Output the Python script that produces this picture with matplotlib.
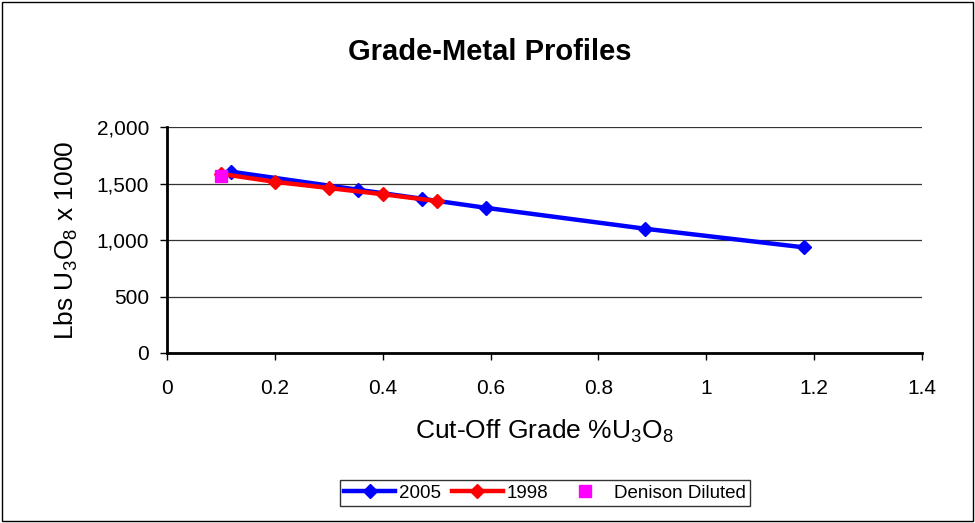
import matplotlib
matplotlib.use("Agg")
import matplotlib.pyplot as plt
from matplotlib.patches import Rectangle

plt.rcParams['font.family'] = ['Liberation Sans', 'DejaVu Sans']
plt.rcParams['mathtext.fontset'] = 'custom'
plt.rcParams['mathtext.rm'] = 'Liberation Sans'
plt.rcParams['mathtext.it'] = 'Liberation Sans'

x2005 = [0.118, 0.354, 0.473, 0.591, 0.886, 1.181]
y2005 = [1605, 1445, 1365, 1285, 1100, 935]
x1998 = [0.1, 0.2, 0.3, 0.4, 0.5]
y1998 = [1585, 1515, 1460, 1405, 1345]
xden = [0.1]
yden = [1565]
yticks = [0, 500, 1000, 1500, 2000]
ytick_labels = ['0', '500', '1,000', '1,500', '2,000']
xticks = [0, 0.2, 0.4, 0.6, 0.8, 1, 1.2, 1.4]
xtick_labels = ['0', '0.2', '0.4', '0.6', '0.8', '1', '1.2', '1.4']

fig = plt.figure(figsize=(9.75, 5.23), dpi=100)
ax = fig.add_axes([167/975, 170/523, 755/975, 226/523])

ax.plot(x2005, y2005, color='#0000FF', lw=3.2, marker='D', ms=7.5, label='2005', zorder=3)
ax.plot(x1998, y1998, color='#FF0000', lw=3.2, marker='D', ms=7.5, label='1998', zorder=4)
ax.plot(xden, yden, ls='none', color='#FF00FF', marker='s', ms=9, label='Denison Diluted', zorder=5)

ax.set_xlim(0, 1.4)
ax.set_ylim(0, 2000)
ax.set_yticks(yticks)
ax.set_yticklabels(ytick_labels)
ax.set_xticks(xticks)
ax.set_xticklabels(xtick_labels)
ax.yaxis.grid(True, color='#333333', lw=0.9)
ax.set_axisbelow(True)
for s in ['top', 'right']:
    ax.spines[s].set_visible(False)
for s in ['left', 'bottom']:
    ax.spines[s].set_linewidth(2)
ax.tick_params(axis='both', direction='out', length=5, width=1, labelsize=15, colors='black')
ax.tick_params(axis='x', pad=14)
ax.tick_params(axis='y', pad=8)

ax.set_xlabel('Cut-Off Grade %U$_3$O$_8$', fontsize=19, labelpad=14)
ax.set_ylabel('Lbs U$_3$O$_8$ x 1000', fontsize=19, labelpad=12)
fig.text(490/975, 1 - 52/523, 'Grade-Metal Profiles', ha='center', va='center', fontsize=21, fontweight='bold')

leg = fig.legend(loc='center', bbox_to_anchor=(545/975, 1 - 493/523), ncol=3, fontsize=13.5,
                 frameon=True, fancybox=False, edgecolor='black', handlelength=2.7,
                 columnspacing=0.6, handletextpad=0.2, borderpad=0.25)
leg.get_frame().set_linewidth(1)

fig.patches.append(Rectangle((2/975, 2/523), 971/975, 519/523, transform=fig.transFigure,
                             fill=False, edgecolor='black', lw=1))

fig.savefig('out.png', dpi=100)
